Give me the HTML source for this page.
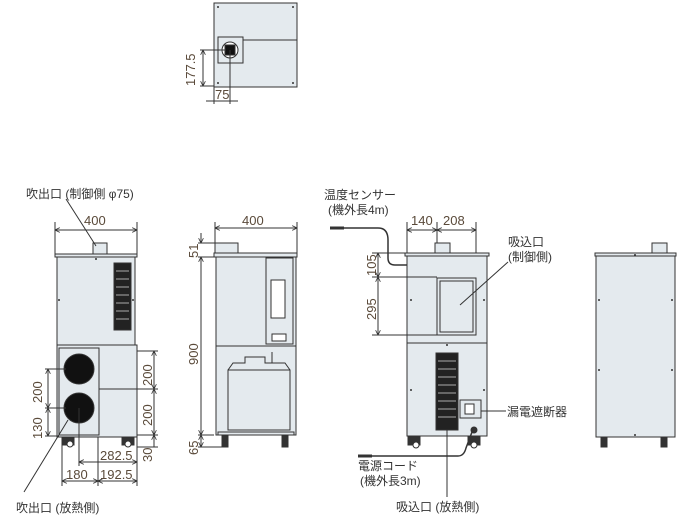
<!DOCTYPE html>
<html><head><meta charset="utf-8"><style>
html,body{margin:0;padding:0;background:#fff;}
svg{display:block;}
text{font-family:"Liberation Sans","Noto Sans CJK JP",sans-serif;fill:#333;}
.d{font-size:13px;fill:#5a4a3a;}
.l{font-size:12px;}
</style></head><body>
<svg width="700" height="522" viewBox="0 0 700 522" xmlns="http://www.w3.org/2000/svg">
<defs>
<marker id="a" viewBox="0 0 6 6" refX="6" refY="3" markerWidth="5" markerHeight="5" orient="auto-start-reverse"><path d="M0,0 L6,3 L0,6" fill="none" stroke="#333" stroke-width="1"/></marker>
</defs>
<g stroke="#333" stroke-width="1" fill="none">
<!-- TOP VIEW -->
<rect x="214" y="3" width="83" height="84" fill="#e4eaee"/>
<line x1="243" y1="40" x2="297" y2="40"/>
<rect x="218" y="37" width="25" height="26" fill="#e4eaee"/>
<circle cx="230" cy="50" r="8" fill="#fff"/>
<rect x="225" y="45" width="10" height="10" fill="#111"/>
<line x1="200" y1="50" x2="226" y2="50"/>
<line x1="200" y1="86" x2="214" y2="86"/>
<line x1="203" y1="50" x2="203" y2="86" marker-start="url(#a)" marker-end="url(#a)"/>
<line x1="230" y1="50" x2="230" y2="104"/>
<line x1="214" y1="87" x2="214" y2="104"/>
<line x1="206" y1="101" x2="238" y2="101"/>
<!-- FRONT VIEW -->
<line x1="55" y1="222" x2="55" y2="255"/><line x1="137" y1="222" x2="137" y2="255"/>
<line x1="55" y1="230" x2="137" y2="230" marker-start="url(#a)" marker-end="url(#a)"/>
<rect x="93" y="243" width="14" height="12" fill="#e4eaee"/>
<rect x="55" y="254" width="82" height="3" fill="#e4eaee"/>
<rect x="57" y="257" width="78" height="88" fill="#e4eaee"/>
<rect x="114" y="263" width="17" height="67" fill="#222"/>
<g stroke="#aaa"><line x1="116" y1="271" x2="129" y2="271"/><line x1="116" y1="279" x2="129" y2="279"/><line x1="116" y1="287" x2="129" y2="287"/><line x1="116" y1="295" x2="129" y2="295"/><line x1="116" y1="303" x2="129" y2="303"/><line x1="116" y1="311" x2="129" y2="311"/><line x1="116" y1="319" x2="129" y2="319"/></g>
<rect x="57" y="345" width="80" height="92" fill="#e4eaee"/>
<rect x="59" y="348" width="40" height="87" fill="#e4eaee"/>
<circle cx="79" cy="369" r="15" fill="#111"/>
<circle cx="79" cy="408" r="15" fill="#111"/>
<line x1="99" y1="389" x2="158" y2="389"/>
<line x1="137" y1="351" x2="158" y2="351"/><line x1="137" y1="435" x2="158" y2="435"/>
<line x1="154" y1="351" x2="154" y2="389" marker-start="url(#a)" marker-end="url(#a)"/>
<line x1="154" y1="389" x2="154" y2="435" marker-start="url(#a)" marker-end="url(#a)"/>
<line x1="154" y1="435" x2="154" y2="447" marker-start="url(#a)"/>
<line x1="137" y1="447" x2="158" y2="447"/>
<line x1="45" y1="369" x2="66" y2="369"/><line x1="45" y1="408" x2="66" y2="408"/><line x1="45" y1="436" x2="59" y2="436"/>
<line x1="48" y1="369" x2="48" y2="408" marker-start="url(#a)" marker-end="url(#a)"/>
<line x1="48" y1="408" x2="48" y2="436" marker-start="url(#a)" marker-end="url(#a)"/>
<path d="M62 437 h12 v8 h-12 z M122 437 h12 v8 h-12 z" fill="#333"/>
<circle cx="70" cy="444" r="3" fill="#fff"/><circle cx="128" cy="444" r="3" fill="#fff"/>
<line x1="79" y1="408" x2="79" y2="466"/>
<line x1="62" y1="437" x2="62" y2="486"/><line x1="98" y1="437" x2="98" y2="486"/><line x1="137" y1="437" x2="137" y2="486"/>
<line x1="79" y1="462" x2="137" y2="462" marker-start="url(#a)" marker-end="url(#a)"/>
<line x1="62" y1="481" x2="98" y2="481" marker-start="url(#a)" marker-end="url(#a)"/>
<line x1="98" y1="481" x2="137" y2="481" marker-start="url(#a)" marker-end="url(#a)"/>
<line x1="66" y1="199" x2="96" y2="246"/>
<line x1="24" y1="492" x2="68" y2="420"/>
<!-- SIDE VIEW -->
<line x1="215" y1="222" x2="215" y2="253"/><line x1="297" y1="222" x2="297" y2="253"/>
<line x1="215" y1="228" x2="297" y2="228" marker-start="url(#a)" marker-end="url(#a)"/>
<rect x="215" y="243" width="23" height="10" fill="#e4eaee"/>
<rect x="214" y="253" width="83" height="4" fill="#e4eaee"/>
<rect x="216" y="257" width="80" height="89" fill="#e4eaee"/>
<rect x="266" y="258" width="27" height="86" fill="#e4eaee"/>
<rect x="271" y="280" width="14" height="38" fill="#fff"/>
<rect x="272" y="334" width="14" height="7" fill="#fff"/>
<rect x="216" y="346" width="80" height="89" fill="#e4eaee"/>
<path d="M233 363 h12 v-6 h20 v6 h20 l5 7 v60 h-62 v-60 z" fill="#e4eaee"/>
<rect x="228" y="370" width="62" height="60" fill="#e4eaee"/>
<line x1="272" y1="363" x2="272" y2="352"/>
<rect x="218" y="432" width="76" height="3" fill="#e4eaee"/>
<path d="M222 436 h6 v11 h-6 z M282 436 h6 v11 h-6 z" fill="#333"/>
<line x1="198" y1="243" x2="215" y2="243"/><line x1="198" y1="257" x2="214" y2="257"/>
<line x1="198" y1="435" x2="214" y2="435"/><line x1="198" y1="447" x2="222" y2="447"/>
<line x1="201" y1="233" x2="201" y2="243" marker-end="url(#a)"/>
<line x1="201" y1="257" x2="201" y2="435" marker-start="url(#a)" marker-end="url(#a)"/>
<line x1="201" y1="435" x2="201" y2="447" marker-start="url(#a)" marker-end="url(#a)"/>
<!-- REAR VIEW -->
<line x1="407" y1="222" x2="407" y2="253"/><line x1="437" y1="222" x2="437" y2="335"/><line x1="476" y1="222" x2="476" y2="253"/>
<line x1="407" y1="230" x2="437" y2="230" marker-start="url(#a)" marker-end="url(#a)"/>
<line x1="437" y1="230" x2="476" y2="230" marker-start="url(#a)" marker-end="url(#a)"/>
<rect x="435" y="243" width="15" height="10" fill="#e4eaee"/>
<rect x="405" y="253" width="84" height="3" fill="#e4eaee"/>
<rect x="407" y="256" width="80" height="87" fill="#e4eaee"/>
<rect x="437" y="278" width="39" height="57" fill="#e4eaee"/>
<rect x="440" y="281" width="33" height="51" fill="#e4eaee"/>
<rect x="407" y="343" width="80" height="93" fill="#e4eaee"/>
<rect x="436" y="353" width="22" height="77" fill="#222"/>
<g stroke="#aaa"><line x1="438" y1="361" x2="456" y2="361"/><line x1="438" y1="369" x2="456" y2="369"/><line x1="438" y1="377" x2="456" y2="377"/><line x1="438" y1="385" x2="456" y2="385"/><line x1="438" y1="393" x2="456" y2="393"/><line x1="438" y1="401" x2="456" y2="401"/><line x1="438" y1="409" x2="456" y2="409"/><line x1="438" y1="417" x2="456" y2="417"/></g>
<rect x="460" y="400" width="21" height="18" fill="#e4eaee"/>
<rect x="465" y="404" width="9" height="10" fill="#fff"/>
<line x1="481" y1="411" x2="506" y2="411"/>
<line x1="372" y1="253" x2="407" y2="253"/><line x1="372" y1="277" x2="437" y2="277"/><line x1="372" y1="335" x2="437" y2="335"/>
<line x1="378" y1="253" x2="378" y2="277" marker-start="url(#a)" marker-end="url(#a)"/>
<line x1="378" y1="277" x2="378" y2="335" marker-start="url(#a)" marker-end="url(#a)"/>
<path d="M408 437 h12 v8 h-12 z M468 437 h12 v8 h-12 z" fill="#333"/>
<circle cx="474" cy="445" r="3" fill="#fff"/><circle cx="416" cy="445" r="3" fill="#fff"/>
<circle cx="474" cy="430" r="3" fill="#333"/>
<path d="M330 228 H378 Q388 228 388 240 V258 Q388 265 395 265 H407" stroke-width="1.5"/>
<path d="M330 228 h14" stroke-width="3"/>
<path d="M358 456 H458 Q464 456 466 448 L472 432" stroke-width="1.5"/>
<path d="M358 456 h14" stroke-width="3"/>
<line x1="447" y1="430" x2="447" y2="497"/>
<line x1="460" y1="305" x2="508" y2="262"/>
<!-- RIGHT VIEW -->
<rect x="652" y="243" width="15" height="10" fill="#e4eaee"/>
<rect x="595" y="253" width="81" height="3" fill="#e4eaee"/>
<rect x="596" y="256" width="79" height="181" fill="#e4eaee"/>
<path d="M601 437 h6 v10 h-6 z M661 437 h6 v10 h-6 z" fill="#333"/>
</g>
<g fill="#333">
<circle cx="218" cy="7" r="1"/><circle cx="293" cy="7" r="1"/><circle cx="218" cy="83" r="1"/><circle cx="293" cy="83" r="1"/>
<circle cx="96" cy="259" r="1"/><circle cx="59" cy="300" r="1"/><circle cx="133" cy="300" r="1"/><circle cx="599" cy="300" r="1"/><circle cx="672" cy="300" r="1"/><circle cx="599" cy="370" r="1"/><circle cx="672" cy="370" r="1"/><circle cx="635" cy="255" r="1"/><circle cx="635" cy="435" r="1"/>
<circle cx="411" cy="300" r="1"/><circle cx="484" cy="300" r="1"/><circle cx="411" cy="390" r="1"/><circle cx="484" cy="390" r="1"/><circle cx="447" cy="345" r="1"/>
</g>
<text class="d" transform="translate(195,86) rotate(-90)">177.5</text>
<text class="d" x="215" y="99">75</text>
<text class="l" x="26" y="198">吹出口 (制御側 φ75)</text>
<text class="d" x="84" y="225">400</text>
<text class="d" x="242" y="225">400</text>
<text class="d" transform="translate(152,386) rotate(-90)">200</text>
<text class="d" transform="translate(152,426) rotate(-90)">200</text>
<text class="d" transform="translate(152,462) rotate(-90)">30</text>
<text class="d" transform="translate(42,403) rotate(-90)">200</text>
<text class="d" transform="translate(42,439) rotate(-90)">130</text>
<text class="d" x="100" y="460">282.5</text>
<text class="d" x="66" y="479">180</text>
<text class="d" x="100" y="479">192.5</text>
<text class="l" x="16" y="512">吹出口 (放熱側)</text>
<text class="d" transform="translate(198,258) rotate(-90)">51</text>
<text class="d" transform="translate(198,365) rotate(-90)">900</text>
<text class="d" transform="translate(198,455) rotate(-90)">65</text>
<text class="l" x="324" y="199">温度センサー</text>
<text class="l" x="328" y="214">(機外長4m)</text>
<text class="d" x="411" y="225">140</text>
<text class="d" x="443" y="225">208</text>
<text class="d" transform="translate(376,276) rotate(-90)">105</text>
<text class="d" transform="translate(376,320) rotate(-90)">295</text>
<text class="l" x="508" y="246">吸込口</text>
<text class="l" x="508" y="261">(制御側)</text>
<text class="l" x="507" y="416">漏電遮断器</text>
<text class="l" x="358" y="470">電源コード</text>
<text class="l" x="360" y="485">(機外長3m)</text>
<text class="l" x="396" y="511">吸込口 (放熱側)</text>
</svg>
</body></html>
